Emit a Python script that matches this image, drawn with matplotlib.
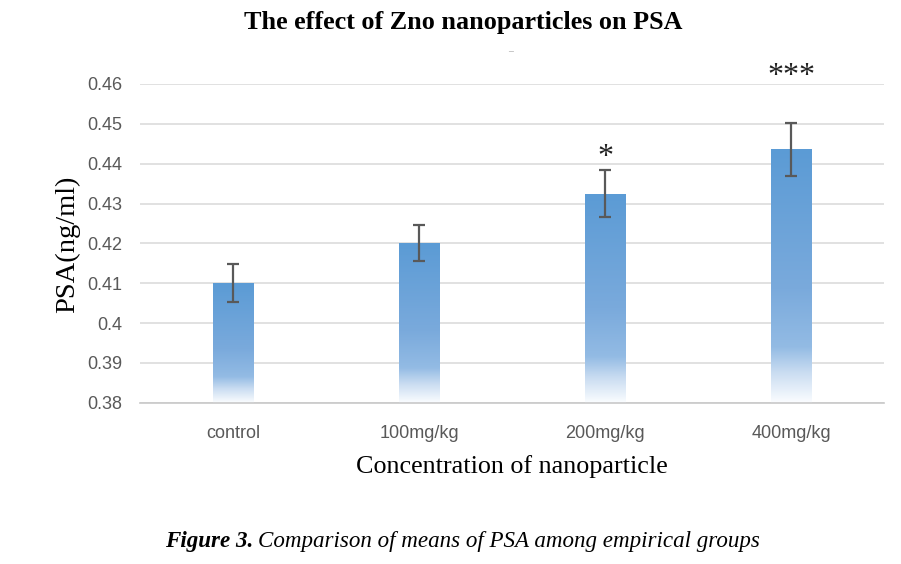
import numpy as np
import matplotlib.pyplot as plt
from matplotlib.colors import LinearSegmentedColormap

groups = ['control', '100mg/kg', '200mg/kg', '400mg/kg']
psa_means = [0.410, 0.420, 0.4325, 0.4436]
psa_err = [0.0047, 0.0045, 0.0058, 0.0067]
stars = ['', '', '*', '***']
y_ticks = [0.38, 0.39, 0.40, 0.41, 0.42, 0.43, 0.44, 0.45, 0.46]
y_tick_labels = ['0.38', '0.39', '0.4', '0.41', '0.42', '0.43', '0.44', '0.45', '0.46']

serif = 'Liberation Serif'
sans = 'Liberation Sans'

fig = plt.figure(figsize=(9.01, 5.64), dpi=100)
W, H = 901, 564
ax = fig.add_axes([140 / W, 1 - 402.7 / H, (884 - 140) / W, (402.7 - 84) / H])

x = np.arange(len(groups))
width = 0.22
bars = ax.bar(x, psa_means, width=width, color='none', edgecolor='none', zorder=2)

cmap = LinearSegmentedColormap.from_list('excel_blue', [
    (0.0, '#5b9bd5'), (0.55, '#7aaadc'), (0.78, '#93bbe4'),
    (0.88, '#c9dcf1'), (1.0, '#fbfdff')])
grad = np.linspace(0, 1, 256).reshape(-1, 1)
for b in bars:
    x0, w = b.get_x(), b.get_width()
    top = b.get_height()
    im = ax.imshow(grad, cmap=cmap, aspect='auto', extent=[x0, x0 + w, 0.38, top],
                   origin='upper', zorder=2, interpolation='bilinear')
    im.set_clip_path(b)

ax.errorbar(x, psa_means, yerr=psa_err, fmt='none', ecolor='#595959',
            elinewidth=1.6, capsize=4.5, capthick=1.6, zorder=3)

# gap between error bar top and the significance marks
star_gap = [0, 0, 0.0033, 0.0117]
for xi, m, e, s, g in zip(x, psa_means, psa_err, stars, star_gap):
    if s:
        ax.text(xi, m + e + g, s, ha='center', va='center', fontsize=23,
                family=serif, color='#222222', clip_on=False)

ax.set_xlim(-0.5, 3.5)
ax.set_ylim(0.38, 0.46)
ax.set_yticks(y_ticks)
ax.set_yticklabels(y_tick_labels)
ax.set_xticks(x)
ax.set_xticklabels(groups)
ax.yaxis.grid(True, color='#d9d9d9', linewidth=1.1, zorder=0)
ax.set_axisbelow(True)
for side in ['top', 'right', 'left']:
    ax.spines[side].set_visible(False)
ax.spines['bottom'].set_color('#c8c8c8')
ax.spines['bottom'].set_linewidth(1.2)
ax.tick_params(length=0, labelsize=13, labelcolor='#595959', pad=13)
ax.tick_params(axis='x', pad=16)
for lab in ax.get_xticklabels() + ax.get_yticklabels():
    lab.set_family(sans)

fig.text(463 / W, 1 - 22 / H, 'The effect of Zno nanoparticles on PSA', ha='center',
         va='center', fontsize=18.8, fontweight='bold', family=serif)
fig.text(510 / W, 1 - 52 / H, '\u2013', ha='center', va='center', fontsize=7,
         color='#999999', family=serif)
fig.text(68 / W, 1 - 244 / H, 'PSA(ng/ml)', rotation=90, ha='center', va='center',
         fontsize=20.5, family=serif)
fig.text(512 / W, 1 - 467 / H, 'Concentration of nanoparticle', ha='center',
         va='center', fontsize=18.8, family=serif)

t1 = fig.text(165 / W, 1 - 541 / H, 'Figure 3.', ha='left', va='center', fontsize=16.6,
              family=serif, style='italic', fontweight='bold')
fig.canvas.draw()
bb = t1.get_window_extent()
fig.text(bb.x1 / W + 5 / W, 1 - 541 / H, 'Comparison of means of PSA among empirical groups',
         ha='left', va='center', fontsize=16.6, family=serif, style='italic')

fig.savefig('out.png', dpi=100)
